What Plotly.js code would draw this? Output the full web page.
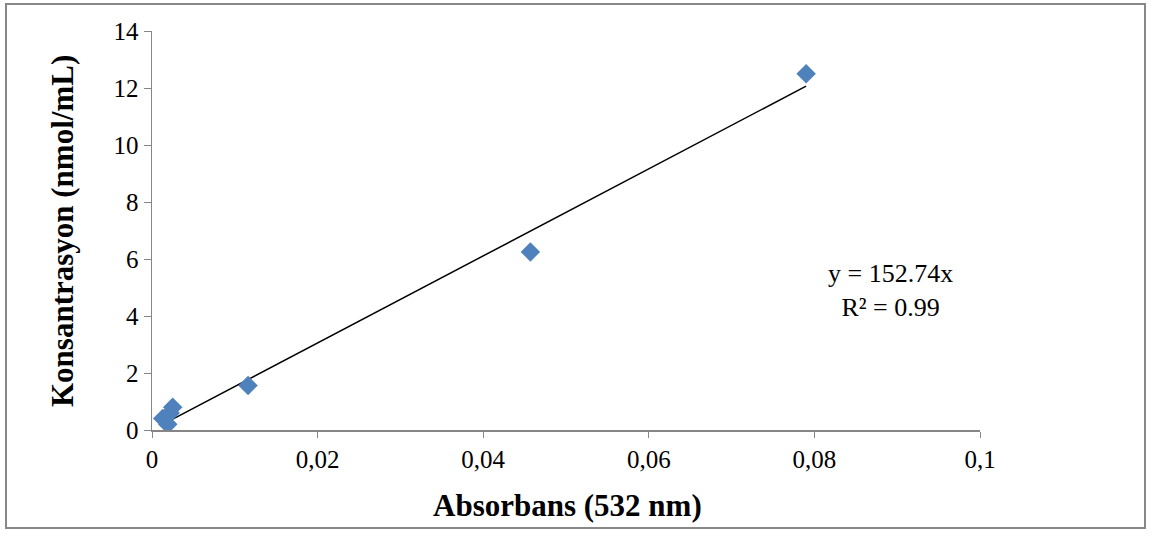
<!DOCTYPE html>
<html><head><meta charset="utf-8">
<script src="https://cdn.plot.ly/plotly-3.0.1.min.js"></script>
<style>body{margin:0;background:#fff}#c{width:1152px;height:539px}</style>
</head><body><div id="c"></div>
<script>
const absorbance = [0.0013, 0.0019, 0.0022, 0.0025, 0.0116, 0.0457, 0.0790];
const concentration = [0.40, 0.20, 0.60, 0.80, 1.56, 6.25, 12.50];
const slope = 152.74;
const trendX = [Math.min(...absorbance), Math.max(...absorbance)];
const trendY = trendX.map(v => slope * v);
const xTickVals = [0, 0.02, 0.04, 0.06, 0.08, 0.1];
const xTickText = ['0', '0,02', '0,04', '0,06', '0,08', '0,1'];
const yTickVals = [0, 2, 4, 6, 8, 10, 12, 14];
const eqText = 'y = 152.74x<br>R² = 0.99';

const W = 1152, H = 539, L = 152, R = 172, T = 31, B = 109;
const pw = W - L - R, ph = H - T - B;
const px = x => (x - L) / pw, py = y => 1 - (y - T) / ph;
const font = '"Liberation Serif", "Times New Roman", serif';

Plotly.newPlot('c', [
  {x: trendX, y: trendY, mode: 'lines', line: {color: '#000', width: 1.5}, hoverinfo: 'skip'},
  {x: absorbance, y: concentration, mode: 'markers',
   marker: {symbol: 'diamond', size: 15, color: '#4F81BD', line: {width: 0}}}
], {
  width: W, height: H, showlegend: false,
  margin: {l: L, r: R, t: T, b: B, pad: 0},
  paper_bgcolor: '#fff', plot_bgcolor: '#fff',
  font: {family: font, size: 26, color: '#000'},
  xaxis: {range: [0, 0.1], tickvals: xTickVals, ticktext: xTickText, showgrid: false, zeroline: false,
    showline: true, linecolor: '#868686', linewidth: 1.5, ticks: 'outside', ticklen: 6, tickcolor: '#868686',
    tickfont: {family: font, size: 25}, fixedrange: true},
  yaxis: {range: [0, 14], tickvals: yTickVals, showgrid: false, zeroline: false,
    showline: true, linecolor: '#868686', linewidth: 1.5, ticks: 'outside', ticklen: 7, tickcolor: '#868686',
    tickfont: {family: font, size: 25}, fixedrange: true},
  annotations: [
    {xref: 'paper', yref: 'paper', x: px(567), y: py(505), text: '<b>Absorbans (532 nm)</b>', showarrow: false,
     font: {family: font, size: 31}, xanchor: 'center', yanchor: 'middle'},
    {xref: 'paper', yref: 'paper', x: px(62), y: py(231), text: '<b>Konsantrasyon (nmol/mL)</b>', showarrow: false,
     textangle: -90, font: {family: font, size: 31}, xanchor: 'center', yanchor: 'middle'},
    {xref: 'paper', yref: 'paper', x: px(890), y: py(290), text: eqText, showarrow: false, align: 'center',
     font: {family: font, size: 26}, xanchor: 'center', yanchor: 'middle'}
  ],
  shapes: [
    {type: 'rect', xref: 'paper', yref: 'paper', x0: px(6), x1: px(1145), y0: py(528), y1: py(4),
     line: {color: '#888', width: 2}, fillcolor: 'rgba(0,0,0,0)', layer: 'below'}
  ]
}, {displayModeBar: false, staticPlot: true});
</script></body></html>
